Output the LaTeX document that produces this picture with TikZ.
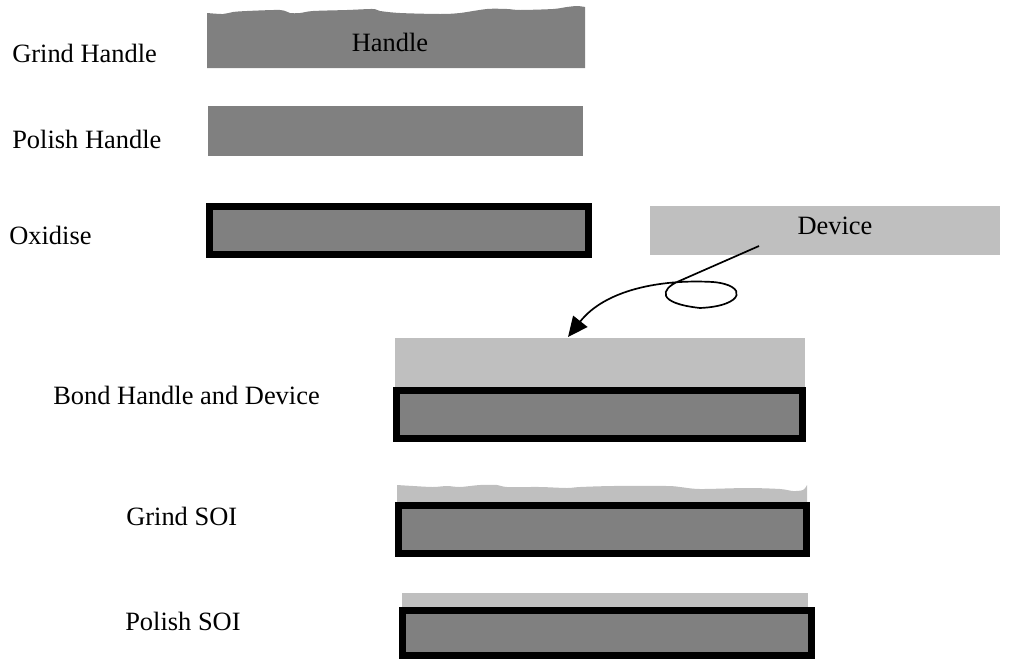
\documentclass[tikz,border=0pt]{standalone}
\usepackage{fontspec}
\setmainfont{Liberation Serif}
\usepackage{tikz}
\usetikzlibrary{arrows.meta,positioning}
\definecolor{handlegray}{gray}{0.5}
\definecolor{devicegray}{gray}{0.75}
\tikzstyle{handle} = [fill=handlegray, draw=none]
\tikzstyle{device} = [fill=devicegray, draw=none]
\tikzstyle{oxide} = [fill=handlegray, draw=black, line width=5pt]
\tikzstyle{steptext} = [anchor=base west, inner sep=0pt, font=\fontsize{18.8}{22}\selectfont]
\tikzstyle{layertext} = [anchor=base, inner sep=0pt, font=\fontsize{18.8}{22}\selectfont]

\begin{document}
\begin{tikzpicture}[x=0.025cm, y=-0.025cm]
    \useasboundingbox (0,0) rectangle (1018,659);

    % grind handle (rough top)
    \fill[handle] (207,68) -- plot[smooth] coordinates {(207,13) (223,14) (233,12) (247,11) (280,10)
        (290,13) (300,13) (313,11) (347,10) (373,9) (380,11) (400,13) (440,14) (460,13)
        (487,9) (507,9) (520,10) (553,9) (567,7) (577,6) (585,7)} -- (585,68) -- cycle;
    \node[layertext] (handletext) at (390,51) {Handle};

    % polish handle
    \fill[handle] (208,106) rectangle (583,156);

    % oxidise
    \draw[oxide] (209.5,206.5) rectangle (588.5,254.5);

    % device wafer
    \fill[device] (650,206) rectangle (1000,255);
    \node[layertext] (devicetext) at (835,234) {Device};

    % bond handle and device
    \fill[device] (395,338) rectangle (805,387);
    \draw[oxide] (396.5,390.5) rectangle (802.5,438.5);

    % grind SOI
    \fill[device] (397,502) -- plot[smooth] coordinates {(397,485) (413,486) (433,487) (447,486)
        (460,487) (480,485) (497,485) (507,487) (540,487) (567,488) (580,487) (613,486)
        (667,486) (680,487) (700,489) (747,488) (780,489) (793,491) (803,490) (807,485)}
        -- (807,502) -- cycle;
    \draw[oxide] (398.5,505.5) rectangle (806.5,553.5);

    % polish SOI
    \fill[device] (402,593) rectangle (808,607);
    \draw[oxide] (402.5,610.5) rectangle (811.5,655.5);

    % step names
    \node[steptext] (grindhandle) at (12,62) {Grind Handle};
    \node[steptext] (polishhandle) at (12,148) {Polish Handle};
    \node[steptext] (oxidise) at (9,244) {Oxidise};
    \node[steptext] (bond) at (53,404) {Bond Handle and Device};
    \node[steptext] (grindsoi) at (126,525) {Grind SOI};
    \node[steptext] (polishsoi) at (125,630) {Polish SOI};

    % device flipped onto handle
    \coordinate (devtail) at (759,246);
    \coordinate (bondtop) at (568,337);
    \draw[line width=1.2pt, -{Triangle[length=0.5cm, width=0.45cm]}] (devtail) -- (677,282)
        .. controls (662,289) and (655,303) .. (700,308)
        .. controls (745,306) and (748,285) .. (713,282)
        .. controls (660,279) and (605,290) .. (bondtop);
\end{tikzpicture}
\end{document}
